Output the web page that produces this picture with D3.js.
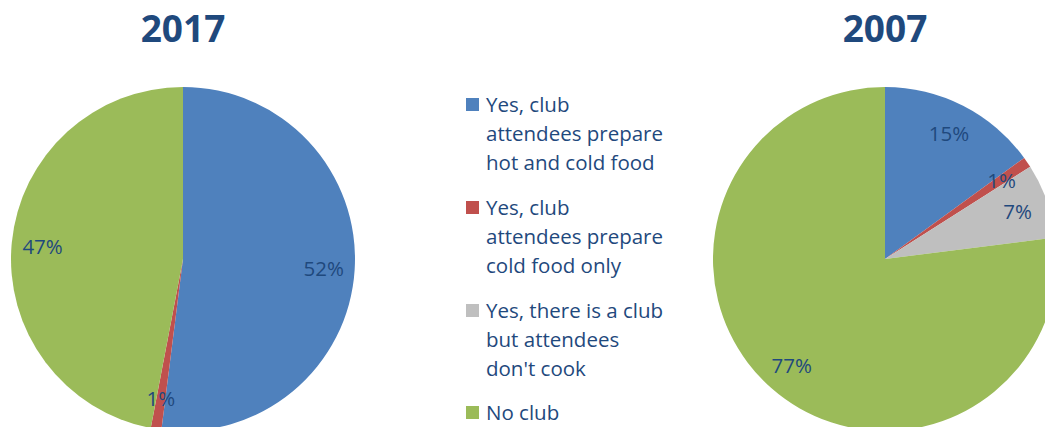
<!DOCTYPE html>
<html>
<head>
<meta charset="utf-8">
<script src="https://cdnjs.cloudflare.com/ajax/libs/d3/7.8.5/d3.min.js"></script>
<style>
  html, body { margin: 0; padding: 0; background: #fff; }
  svg { display: block; overflow: hidden; }
  text { font-family: "Open Sans", Lato, sans-serif; }
</style>
</head>
<body>
<svg id="chart" width="1045" height="427"></svg>
<script>
// Survey categories (legend order = slice order, clockwise from 12 o'clock)
const categories = [
  "Yes, club attendees prepare hot and cold food",
  "Yes, club attendees prepare cold food only",
  "Yes, there is a club but attendees don't cook",
  "No club"
];
// Legend text broken into its displayed lines
const legendLines = [
  ["Yes, club", "attendees prepare", "hot and cold food"],
  ["Yes, club", "attendees prepare", "cold food only"],
  ["Yes, there is a club", "but attendees", "don't cook"],
  ["No club"]
];
const colors = ["#4F81BD", "#C0504D", "#BFBFBF", "#9BBB59"];

// Percent share per category
const years = ["2017", "2007"];
const values2017 = [52, 1, 0, 47];
const values2007 = [15, 1, 7, 77];

const svg = d3.select("#chart");
const textColor = "#1F497D";
const R = 172;

const pie = d3.pie().sort(null).value(d => d);
const arc = d3.arc().innerRadius(0).outerRadius(R);
const labelArc = d3.arc().innerRadius(R * 0.82).outerRadius(R * 0.82);

function drawPie(cx, cy, title, values) {
  const g = svg.append("g").attr("transform", `translate(${cx},${cy})`);
  const arcs = pie(values);
  g.selectAll("path.slice")
    .data(arcs)
    .join("path")
    .attr("class", "slice")
    .attr("d", arc)
    .attr("fill", (d, i) => colors[i]);

  g.selectAll("text.lbl")
    .data(arcs.filter(d => d.data > 0))
    .join("text")
    .attr("class", "lbl")
    .attr("transform", d => `translate(${labelArc.centroid(d)})`)
    .attr("text-anchor", "middle")
    .attr("dominant-baseline", "central")
    .attr("font-size", 20.5)
    .attr("fill", textColor)
    .text(d => d.data + "%");

  svg.append("text")
    .attr("x", cx)
    .attr("y", 42)
    .attr("text-anchor", "middle")
    .attr("font-size", 37)
    .attr("font-weight", 700)
    .attr("fill", textColor)
    .text(title);
}

drawPie(183, 259, years[0], values2017);
drawPie(885, 259, years[1], values2007);

// Legend
const groupBaselines = [112, 215, 318, 420];
const lineH = 29;
const legend = svg.append("g");
categories.forEach((c, i) => {
  const y0 = groupBaselines[i];
  legend.append("rect")
    .attr("x", 466)
    .attr("y", y0 - 14)
    .attr("width", 13)
    .attr("height", 13)
    .attr("fill", colors[i]);
  const t = legend.append("text")
    .attr("x", 486)
    .attr("y", y0)
    .attr("font-size", 20.5)
    .attr("fill", textColor);
  legendLines[i].forEach((ln, k) => {
    t.append("tspan").attr("x", 486).attr("y", y0 + k * lineH).text(ln);
  });
});
</script>
</body>
</html>
